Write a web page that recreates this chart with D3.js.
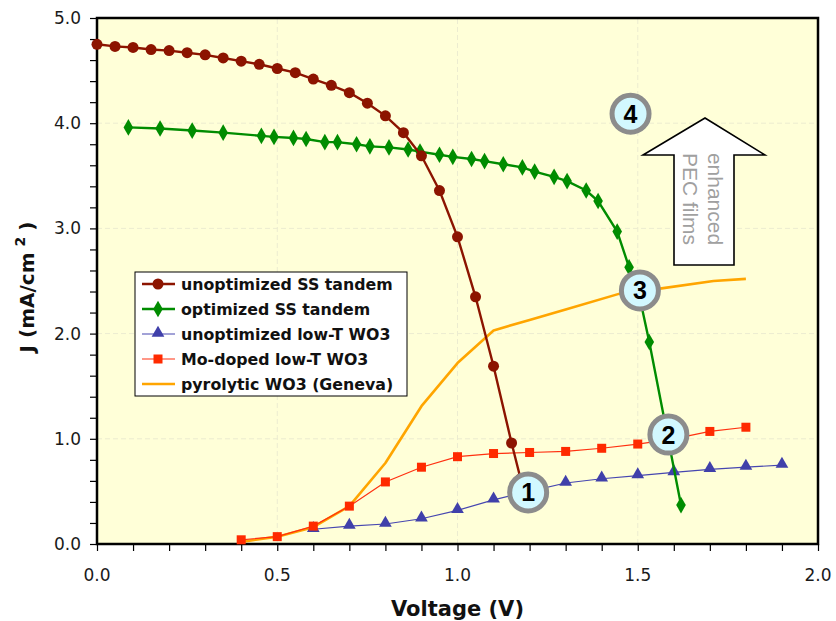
<!DOCTYPE html>
<html lang="en">
<head>
    <meta charset="UTF-8">
    <title>J-V curves</title>
    <script src="https://d3js.org/d3.v7.min.js"></script>
    <style>
        body { margin: 0; background-color: white; }
        .tick-label { font-family: "DejaVu Sans", Verdana, sans-serif; font-size: 17px; fill: #1a1a1a; }
        .axis-title { font-family: "DejaVu Sans", Verdana, sans-serif; font-size: 20px; font-weight: bold; fill: #111; }
        .legend-text { font-family: "DejaVu Sans", Verdana, sans-serif; font-size: 15.8px; font-weight: bold; fill: #111; }
    </style>
</head>
<body>
    <div id="chart"></div>
    <script>
        const width = 836;
        const height = 621;

        // series data, [voltage, current density]
        const unoptSS = [
            [0.0, 4.75], [0.05, 4.73], [0.1, 4.72], [0.15, 4.70], [0.2, 4.69], [0.25, 4.67],
            [0.3, 4.65], [0.35, 4.62], [0.4, 4.59], [0.45, 4.56], [0.5, 4.52], [0.55, 4.48],
            [0.6, 4.42], [0.65, 4.36], [0.7, 4.29], [0.75, 4.19], [0.8, 4.07], [0.85, 3.91],
            [0.9, 3.69], [0.95, 3.36], [1.0, 2.92], [1.05, 2.35], [1.1, 1.69], [1.15, 0.96],
            [1.175, 0.62]
        ];
        const optSS = [
            [0.087, 3.96], [0.175, 3.95], [0.264, 3.93], [0.35, 3.91], [0.456, 3.88], [0.491, 3.87],
            [0.545, 3.86], [0.58, 3.85], [0.632, 3.82], [0.667, 3.82], [0.72, 3.80], [0.757, 3.78],
            [0.81, 3.77], [0.863, 3.75], [0.896, 3.73], [0.95, 3.70], [0.987, 3.68], [1.039, 3.66],
            [1.075, 3.64], [1.127, 3.61], [1.18, 3.58], [1.214, 3.54], [1.268, 3.49], [1.304, 3.45],
            [1.357, 3.36], [1.39, 3.26], [1.443, 2.97], [1.476, 2.63], [1.505, 2.35], [1.532, 1.92],
            [1.62, 0.37]
        ];
        const unoptWO3 = [
            [0.6, 0.14], [0.7, 0.17], [0.8, 0.19], [0.9, 0.24], [1.0, 0.32], [1.1, 0.42],
            [1.2, 0.50], [1.3, 0.58], [1.4, 0.62], [1.5, 0.65], [1.6, 0.68], [1.7, 0.71],
            [1.8, 0.73], [1.9, 0.75]
        ];
        const moWO3 = [
            [0.4, 0.04], [0.5, 0.07], [0.6, 0.17], [0.7, 0.36], [0.8, 0.59], [0.9, 0.73],
            [1.0, 0.83], [1.1, 0.86], [1.2, 0.87], [1.3, 0.88], [1.4, 0.91], [1.5, 0.95],
            [1.6, 1.00], [1.7, 1.07], [1.8, 1.11]
        ];
        const pyroWO3 = [
            [0.4, 0.02], [0.5, 0.07], [0.6, 0.16], [0.7, 0.36], [0.8, 0.77], [0.9, 1.31],
            [1.0, 1.72], [1.1, 2.03], [1.2, 2.13], [1.3, 2.23], [1.45, 2.38], [1.566, 2.43],
            [1.71, 2.50], [1.8, 2.52]
        ];

        const seriesNames = [
            "unoptimized SS tandem",
            "optimized SS tandem",
            "unoptimized low-T WO3",
            "Mo-doped low-T WO3",
            "pyrolytic WO3 (Geneva)"
        ];

        // numbered callouts, [label, voltage, J]
        const callouts = [["1", 1.196, 0.49], ["2", 1.585, 1.04], ["3", 1.506, 2.41], ["4", 1.48, 4.09]];

        const xTickValues = d3.range(0, 21).map(i => i / 10);
        const yTickValues = d3.range(0, 26).map(i => i / 5);
        const xLabels = [0, 0.5, 1.0, 1.5, 2.0];
        const yLabels = [0, 1, 2, 3, 4, 5];

        const margin = { left: 97, right: 18, top: 18, bottom: 77 };
        const x = d3.scaleLinear().domain([0, 2]).range([margin.left, width - margin.right]);
        const y = d3.scaleLinear().domain([0, 5]).range([height - margin.bottom, margin.top]);

        const svg = d3.select("#chart").append("svg")
            .attr("width", width)
            .attr("height", height);

        // plot background
        svg.append("rect")
            .attr("x", x(0)).attr("y", y(5))
            .attr("width", x(2) - x(0)).attr("height", y(0) - y(5))
            .attr("fill", "#ffffd8");

        // faint dashed grid
        svg.append("g").selectAll("line").data([0.5, 1.0, 1.5]).enter().append("line")
            .attr("x1", d => x(d)).attr("x2", d => x(d))
            .attr("y1", y(0)).attr("y2", y(5))
            .attr("stroke", "#ececd0").attr("stroke-dasharray", "5,3");
        svg.append("g").selectAll("line").data([1, 2, 3, 4]).enter().append("line")
            .attr("y1", d => y(d)).attr("y2", d => y(d))
            .attr("x1", x(0)).attr("x2", x(2))
            .attr("stroke", "#ececd0").attr("stroke-dasharray", "5,3");

        // axes
        const xAxis = svg.append("g")
            .attr("transform", `translate(0,${y(0)})`)
            .call(d3.axisBottom(x).tickValues(xTickValues).tickFormat("").tickSize(7).tickSizeOuter(0));
        const yAxis = svg.append("g")
            .attr("transform", `translate(${x(0)},0)`)
            .call(d3.axisLeft(y).tickValues(yTickValues).tickFormat("").tickSize(7).tickSizeOuter(0));
        [xAxis, yAxis].forEach(a => {
            a.select(".domain").remove();
            a.selectAll(".tick line").attr("stroke", "#000").attr("stroke-width", 1.2);
        });

        svg.append("g").selectAll("text").data(xLabels).enter().append("text")
            .attr("class", "tick-label")
            .attr("x", d => x(d)).attr("y", 581)
            .attr("text-anchor", "middle")
            .text(d => d3.format(".1f")(d));
        svg.append("g").selectAll("text").data(yLabels).enter().append("text")
            .attr("class", "tick-label")
            .attr("x", 81).attr("y", d => y(d) + 6)
            .attr("text-anchor", "end")
            .text(d => d3.format(".1f")(d));

        // frame
        svg.append("rect")
            .attr("x", x(0)).attr("y", y(5))
            .attr("width", x(2) - x(0)).attr("height", y(0) - y(5))
            .attr("fill", "none").attr("stroke", "#000").attr("stroke-width", 2.5);

        // axis titles
        svg.append("text")
            .attr("class", "axis-title")
            .attr("x", x(1)).attr("y", 616)
            .attr("text-anchor", "middle")
            .style("font-size", "21px")
            .text("Voltage (V)");

        const yTitle = svg.append("text")
            .attr("class", "axis-title")
            .attr("transform", "translate(34,287) rotate(-90)")
            .attr("text-anchor", "middle");
        yTitle.append("tspan").text("J (mA/cm");
        yTitle.append("tspan").attr("dx", 6).attr("dy", -9).style("font-size", "14px").text("2");
        yTitle.append("tspan").attr("dx", 6).attr("dy", 9).text(")");

        const line = d3.line().x(d => x(d[0])).y(d => y(d[1]));

        // marker shapes
        const diamond = d3.symbol().type(d3.symbolDiamond).size(80)();
        const triangle = d3.symbol().type(d3.symbolTriangle).size(70)();

        // pyrolytic WO3 (no markers)
        svg.append("path").datum(pyroWO3)
            .attr("d", line).attr("fill", "none")
            .attr("stroke", "#ffa500").attr("stroke-width", 2.6).attr("stroke-linejoin", "round");

        // unoptimized low-T WO3
        svg.append("path").datum(unoptWO3)
            .attr("d", line).attr("fill", "none")
            .attr("stroke", "#4646b0").attr("stroke-width", 1.2);
        svg.append("g").selectAll("path").data(unoptWO3).enter().append("path")
            .attr("d", triangle)
            .attr("transform", d => `translate(${x(d[0])},${y(d[1]) - 1})`)
            .attr("fill", "#4040aa");

        // Mo-doped low-T WO3
        svg.append("path").datum(moWO3)
            .attr("d", line).attr("fill", "none")
            .attr("stroke", "#ff3010").attr("stroke-width", 1.2);
        svg.append("g").selectAll("rect").data(moWO3).enter().append("rect")
            .attr("x", d => x(d[0]) - 4.5).attr("y", d => y(d[1]) - 4.5)
            .attr("width", 9).attr("height", 9)
            .attr("fill", "#ff2a00");

        // optimized SS tandem
        svg.append("path").datum(optSS)
            .attr("d", line).attr("fill", "none")
            .attr("stroke", "#008c00").attr("stroke-width", 2.4);
        svg.append("g").selectAll("path").data(optSS).enter().append("path")
            .attr("d", diamond)
            .attr("transform", d => `translate(${x(d[0])},${y(d[1])})`)
            .attr("fill", "#008c00");

        // unoptimized SS tandem
        svg.append("path").datum(unoptSS)
            .attr("d", line).attr("fill", "none")
            .attr("stroke", "#8c1400").attr("stroke-width", 2.4);
        svg.append("g").selectAll("circle").data(unoptSS).enter().append("circle")
            .attr("cx", d => x(d[0])).attr("cy", d => y(d[1])).attr("r", 5.5)
            .attr("fill", "#8c1400");

        // numbered callouts
        const co = svg.append("g").selectAll("g").data(callouts).enter().append("g")
            .attr("transform", d => `translate(${x(d[1])},${y(d[2])})`);
        co.append("circle")
            .attr("r", 18.5)
            .attr("fill", "#d2f8ff")
            .attr("stroke", "#8c8c8c").attr("stroke-width", 5);
        co.append("text")
            .attr("text-anchor", "middle").attr("y", 9)
            .style("font-family", "'Liberation Sans', Arial, sans-serif")
            .style("font-size", "25px").style("font-weight", "bold")
            .attr("fill", "#000")
            .text(d => d[0]);

        // arrow "enhanced PEC films"
        const arrowPts = [[705, 118], [765, 155], [734, 155], [734, 265], [674, 265], [674, 155], [643, 155]];
        svg.append("path")
            .attr("d", "M" + arrowPts.map(p => p.join(",")).join("L") + "Z")
            .attr("fill", "#fff").attr("stroke", "#000").attr("stroke-width", 1.6);
        const at = svg.append("text")
            .attr("transform", "translate(705,199) rotate(90)")
            .attr("text-anchor", "middle")
            .style("font-family", "'Liberation Sans', Arial, sans-serif")
            .style("font-size", "21px")
            .attr("fill", "#a0a0a0");
        at.append("tspan").attr("x", 0).attr("y", -3).text("enhanced");
        at.append("tspan").attr("x", 0).attr("y", 22).text("PEC films");

        // legend
        const legend = svg.append("g");
        legend.append("rect")
            .attr("x", 135).attr("y", 272).attr("width", 272).attr("height", 124)
            .attr("fill", "#fff").attr("stroke", "#000").attr("stroke-width", 1);
        const legendStyles = [
            { color: "#8c1400", w: 2.4, mark: "circle" },
            { color: "#008c00", w: 2.4, mark: "diamond" },
            { color: "#4646b0", w: 1.2, mark: "triangle" },
            { color: "#ff3010", w: 1.2, mark: "square" },
            { color: "#ffa500", w: 2.6, mark: "none" }
        ];
        seriesNames.forEach((name, i) => {
            const ly = 284 + i * 25;
            const st = legendStyles[i];
            const g = legend.append("g");
            g.append("line")
                .attr("x1", 142).attr("x2", 175).attr("y1", ly).attr("y2", ly)
                .attr("stroke", st.color).attr("stroke-width", st.w);
            if (st.mark === "circle") {
                g.append("circle").attr("cx", 158).attr("cy", ly).attr("r", 5.5).attr("fill", st.color);
            } else if (st.mark === "diamond") {
                g.append("path").attr("d", diamond).attr("transform", `translate(158,${ly})`).attr("fill", st.color);
            } else if (st.mark === "triangle") {
                g.append("path").attr("d", triangle).attr("transform", `translate(158,${ly - 1})`).attr("fill", "#4040aa");
            } else if (st.mark === "square") {
                g.append("rect").attr("x", 153.5).attr("y", ly - 4.5).attr("width", 9).attr("height", 9).attr("fill", "#ff2a00");
            }
            g.append("text")
                .attr("class", "legend-text")
                .attr("x", 181).attr("y", ly + 6)
                .text(name);
        });
    </script>
</body>
</html>
